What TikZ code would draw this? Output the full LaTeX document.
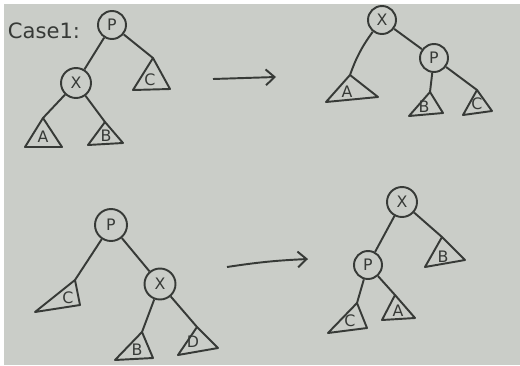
\documentclass[tikz,border=0pt]{standalone}
\usepackage{fontspec}
\setmainfont{DejaVu Sans}
\usetikzlibrary{arrows.meta}
\definecolor{paper}{RGB}{202,205,200}
\definecolor{ink}{RGB}{55,58,55}
\tikzset{
  vert/.style={circle,draw=ink,line width=1.1pt,minimum size=0.56cm,inner sep=0pt,text=ink,font=\small},
  edge/.style={draw=ink,line width=1.1pt},
  tri/.style={draw=ink,line width=1.1pt,line join=round},
  lab/.style={text=ink,font=\small,inner sep=0pt},
  arr/.style={draw=ink,line width=1.1pt,-{Straight Barb[length=5pt,width=9pt]}}
}
\begin{document}
\begin{tikzpicture}[x=0.02cm,y=-0.02cm]
\useasboundingbox (0,0) rectangle (520,365);
\fill[white] (0,0) rectangle (520,365);
\fill[paper] (4,4) rectangle (520,365);
% ---------- top-left
\node[lab,font=\large] (case) at (44,31) {Case1:};
\node[vert] (P1) at (112,25) {P};
\node[vert,minimum size=0.6cm] (X1) at (76,83) {X};
\coordinate (C1a) at (153,58); \coordinate (C1l) at (133,90); \coordinate (C1r) at (170,89);
\coordinate (A1a) at (43,118); \coordinate (A1l) at (25,147); \coordinate (A1r) at (62,147);
\coordinate (B1a) at (105,122); \coordinate (B1l) at (88,145); \coordinate (B1r) at (123,143);
\draw[tri] (C1a) -- (C1l) -- (C1r) -- cycle;
\draw[tri] (A1a) -- (A1l) -- (A1r) -- cycle;
\draw[tri] (B1a) -- (B1l) -- (B1r) -- cycle;
\node[lab] (C1) at (150,80) {C};
\node[lab] (A1) at (43,137) {A};
\node[lab] (B1) at (106,136) {B};
\draw[edge] (P1) -- (X1);
\draw[edge] (P1) -- (C1a);
\draw[edge] (X1) -- (A1a);
\draw[edge] (X1) -- (B1a);
% top arrow
\coordinate (ta1) at (213,79); \coordinate (ta2) at (276,77);
\draw[arr] (ta1) -- (ta2);
% ---------- top-right
\node[vert] (X2) at (382,20) {X};
\node[vert] (P2) at (434,58) {P};
\coordinate (A2a) at (350,75); \coordinate (A2l) at (326,102); \coordinate (A2r) at (378,97);
\coordinate (B2a) at (430,92); \coordinate (B2l) at (409,116); \coordinate (B2r) at (443,113);
\coordinate (C2a) at (477,90); \coordinate (C2l) at (463,115); \coordinate (C2r) at (492,111);
\draw[tri] (A2a) -- (A2l) -- (A2r) -- cycle;
\draw[tri] (B2a) -- (B2l) -- (B2r) -- cycle;
\draw[tri] (C2a) -- (C2l) -- (C2r) -- cycle;
\node[lab] (A2) at (347,92) {A};
\node[lab] (B2) at (424,107) {B};
\node[lab] (C2) at (477,104) {C};
\draw[edge] (X2) to[bend right=8] (A2a);
\draw[edge] (X2) -- (P2);
\draw[edge] (P2) -- (B2a);
\draw[edge] (P2) -- (C2a);
% ---------- bottom-left
\node[vert,minimum size=0.64cm] (P3) at (111,225) {P};
\node[vert,minimum size=0.62cm] (X3) at (160,284) {X};
\coordinate (C3a) at (75,280); \coordinate (C3l) at (35,312); \coordinate (C3r) at (80,305);
\coordinate (B3a) at (142,332); \coordinate (B3l) at (115,360); \coordinate (B3r) at (153,358);
\coordinate (D3a) at (197,327); \coordinate (D3l) at (178,355); \coordinate (D3r) at (218,348);
\draw[tri] (C3a) -- (C3l) -- (C3r) -- cycle;
\draw[tri] (B3a) -- (B3l) -- (B3r) -- cycle;
\draw[tri] (D3a) -- (D3l) -- (D3r) -- cycle;
\node[lab] (C3) at (68,298) {C};
\node[lab] (B3) at (137,350) {B};
\node[lab] (D3) at (193,342) {D};
\draw[edge] (P3) -- (C3a);
\draw[edge] (P3) -- (X3);
\draw[edge] (X3) -- (B3a);
\draw[edge] (X3) -- (D3a);
% bottom arrow
\coordinate (ba1) at (227,267); \coordinate (ba2) at (308,259);
\draw[arr] (ba1) to[bend left=3] (ba2);
% ---------- bottom-right
\node[vert,minimum size=0.6cm] (X4) at (402,202) {X};
\node[vert] (P4) at (368,265) {P};
\coordinate (B4a) at (442,237); \coordinate (B4l) at (425,267); \coordinate (B4r) at (465,260);
\coordinate (C4a) at (357,303); \coordinate (C4l) at (328,333); \coordinate (C4r) at (367,328);
\coordinate (A4a) at (395,295); \coordinate (A4l) at (382,320); \coordinate (A4r) at (415,318);
\draw[tri] (B4a) -- (B4l) -- (B4r) -- cycle;
\draw[tri] (C4a) -- (C4l) -- (C4r) -- cycle;
\draw[tri] (A4a) -- (A4l) -- (A4r) -- cycle;
\node[lab] (B4) at (443,257) {B};
\node[lab] (C4) at (350,321) {C};
\node[lab] (A4) at (398,311) {A};
\draw[edge] (X4) -- (P4);
\draw[edge] (X4) -- (B4a);
\draw[edge] (P4) -- (C4a);
\draw[edge] (P4) -- (A4a);
\end{tikzpicture}
\end{document}
